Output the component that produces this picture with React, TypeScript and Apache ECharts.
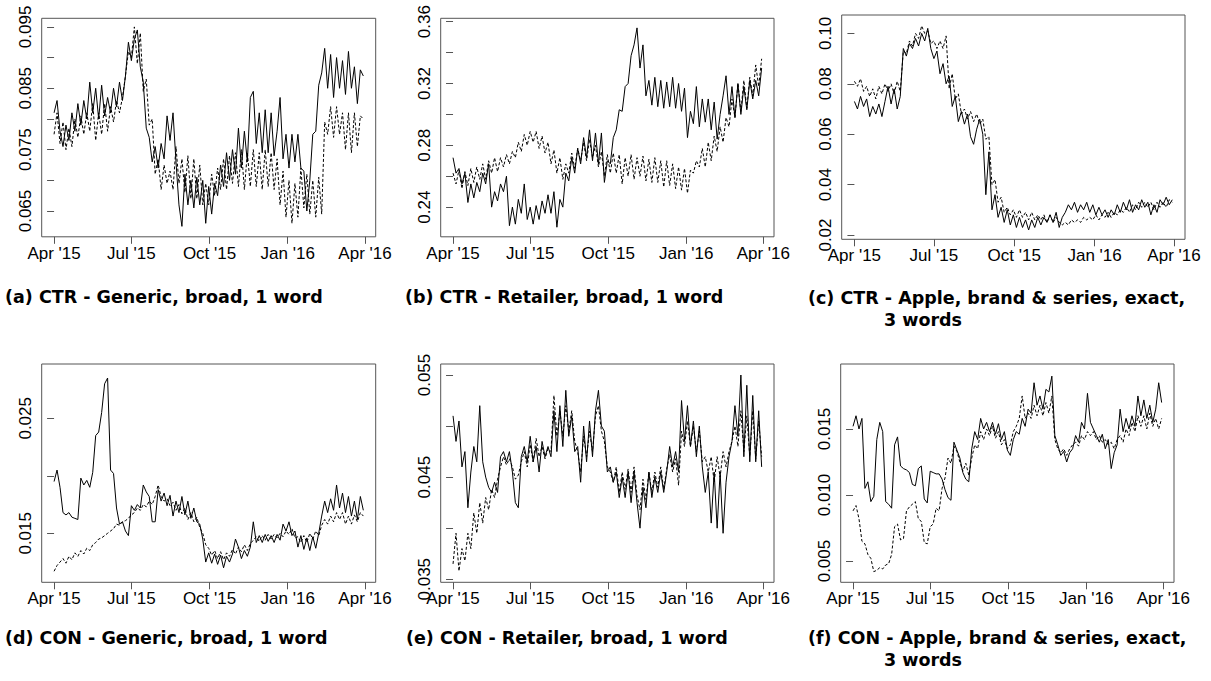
import React, { useEffect, useRef } from "react";
import * as echarts from "echarts";

// one reading every half week; day 0 = 1 Apr 2015
const STEP_DAYS = 3.5;
const xTickDays = [0, 91, 183, 275, 366];
const xTickLabels = ["Apr '15", "Jul '15", "Oct '15", "Jan '16", "Apr '16"];

// (a) CTR - Generic, broad, 1 word
const ctrGenericSolid = [
  0.081, 0.083, 0.078, 0.0755, 0.079, 0.0765, 0.081, 0.078, 0.0825, 0.079,
  0.083, 0.08, 0.086, 0.081, 0.085, 0.08, 0.0855, 0.0805, 0.0835, 0.081,
  0.085, 0.082, 0.086, 0.083, 0.087, 0.0925, 0.0895, 0.093, 0.0945, 0.0885,
  0.086, 0.0785, 0.077, 0.073, 0.0755, 0.072, 0.076, 0.0735, 0.0805, 0.0765,
  0.081, 0.073, 0.066, 0.0625, 0.071, 0.066, 0.07, 0.0655, 0.0705, 0.066,
  0.07, 0.063, 0.069, 0.0645, 0.0695, 0.0675, 0.0725, 0.069, 0.0745, 0.07,
  0.075, 0.071, 0.0785, 0.072, 0.078, 0.073, 0.0835, 0.0845, 0.076, 0.081,
  0.0745, 0.0815, 0.0745, 0.081, 0.074, 0.078, 0.0835, 0.0735, 0.0775, 0.072,
  0.0775, 0.073, 0.0775, 0.072, 0.0715, 0.065, 0.07, 0.0775, 0.078, 0.0855,
  0.0875, 0.0915, 0.085, 0.0905, 0.0835, 0.09, 0.085, 0.0895, 0.084, 0.091,
  0.085, 0.0885, 0.0825, 0.088, 0.087,
];
const ctrGenericDashed = [
  0.0775, 0.081, 0.076, 0.0795, 0.075, 0.0785, 0.0755, 0.08, 0.077, 0.0805,
  0.0775, 0.081, 0.078, 0.0825, 0.0765, 0.081, 0.0775, 0.0825, 0.078, 0.082,
  0.0795, 0.083, 0.081, 0.0835, 0.087, 0.091, 0.09, 0.095, 0.089, 0.094,
  0.0845, 0.0865, 0.079, 0.08, 0.071, 0.0735, 0.0685, 0.0725, 0.0695, 0.0715,
  0.0685, 0.0755, 0.0695, 0.0735, 0.068, 0.074, 0.067, 0.0735, 0.067, 0.0725,
  0.066, 0.0695, 0.066, 0.071, 0.0675, 0.072, 0.0685, 0.0735, 0.0685, 0.074,
  0.0695, 0.0745, 0.069, 0.075, 0.0685, 0.0745, 0.069, 0.075, 0.069, 0.0745,
  0.0685, 0.075, 0.069, 0.0745, 0.0685, 0.0735, 0.066, 0.0715, 0.064, 0.07,
  0.063, 0.0695, 0.064, 0.072, 0.0655, 0.071, 0.0645, 0.07, 0.064, 0.0705,
  0.0645, 0.0795, 0.0775, 0.082, 0.077, 0.082, 0.0775, 0.081, 0.075, 0.081,
  0.0745, 0.081, 0.0755, 0.0805, 0.08,
];

// (b) CTR - Retailer, broad, 1 word
const ctrRetailerSolid = [
  0.272, 0.262, 0.265, 0.255, 0.262, 0.243, 0.255, 0.246, 0.256, 0.25,
  0.262, 0.255, 0.268, 0.24, 0.25, 0.244, 0.255, 0.25, 0.26, 0.228,
  0.24, 0.229, 0.245, 0.236, 0.255, 0.232, 0.24, 0.229, 0.241, 0.232,
  0.244, 0.236, 0.248, 0.236, 0.25, 0.227, 0.245, 0.24, 0.262, 0.257,
  0.272, 0.262, 0.278, 0.268, 0.285, 0.272, 0.29, 0.27, 0.288, 0.268,
  0.288, 0.256, 0.27, 0.268, 0.285, 0.29, 0.303, 0.302, 0.318, 0.32,
  0.338, 0.345, 0.356, 0.33, 0.345, 0.312, 0.322, 0.306, 0.324, 0.305,
  0.322, 0.304, 0.321, 0.305, 0.324, 0.304, 0.32, 0.302, 0.317, 0.285,
  0.302, 0.294, 0.318, 0.292, 0.31, 0.295, 0.31, 0.29, 0.308, 0.284,
  0.3, 0.312, 0.325, 0.3, 0.318, 0.298, 0.32, 0.3, 0.318, 0.303,
  0.322, 0.31, 0.322, 0.312, 0.33,
];
const ctrRetailerDashed = [
  0.262, 0.255, 0.264, 0.252, 0.263, 0.254, 0.265, 0.256, 0.266, 0.258,
  0.268, 0.258, 0.27, 0.262, 0.272, 0.263, 0.272, 0.266, 0.274, 0.268,
  0.276, 0.272, 0.282, 0.276, 0.287, 0.28, 0.289, 0.282, 0.289, 0.278,
  0.286, 0.275, 0.282, 0.268, 0.277, 0.262, 0.272, 0.258, 0.268, 0.262,
  0.275, 0.265, 0.278, 0.27, 0.282, 0.27, 0.284, 0.272, 0.28, 0.266,
  0.276, 0.26, 0.274, 0.262, 0.275, 0.262, 0.274, 0.255, 0.272, 0.26,
  0.274, 0.258, 0.272, 0.26, 0.273, 0.257, 0.271, 0.256, 0.272, 0.256,
  0.27, 0.253, 0.27, 0.254, 0.268, 0.252, 0.266, 0.251, 0.265, 0.249,
  0.264, 0.262, 0.27, 0.266, 0.278, 0.266, 0.282, 0.27, 0.286, 0.276,
  0.292, 0.282, 0.298, 0.292, 0.31, 0.298, 0.32, 0.302, 0.322, 0.304,
  0.324, 0.312, 0.332, 0.318, 0.336,
];

// (c) CTR - Apple, brand & series, exact, 3 words
const ctrAppleSolid = [
  0.073, 0.07, 0.075, 0.071, 0.074, 0.067, 0.071, 0.068, 0.072, 0.067,
  0.073, 0.079, 0.072, 0.078, 0.07, 0.075, 0.094, 0.091, 0.096, 0.094,
  0.098, 0.095, 0.1, 0.097, 0.102, 0.094, 0.09, 0.093, 0.084, 0.088,
  0.08, 0.083, 0.071, 0.075, 0.065, 0.069, 0.064, 0.068, 0.059, 0.056,
  0.062, 0.066, 0.06, 0.036, 0.053, 0.03, 0.036, 0.027, 0.031, 0.025,
  0.03, 0.024, 0.028, 0.023, 0.027, 0.023, 0.026, 0.022, 0.026, 0.023,
  0.027, 0.024, 0.027, 0.025, 0.028, 0.025, 0.029, 0.023, 0.027, 0.029,
  0.032, 0.03, 0.033, 0.029, 0.032, 0.03, 0.033, 0.029, 0.032, 0.028,
  0.031, 0.028, 0.03, 0.027, 0.03, 0.028, 0.032, 0.029, 0.033, 0.03,
  0.034, 0.029, 0.032, 0.03, 0.034, 0.031, 0.033, 0.028, 0.032, 0.029,
  0.034, 0.032, 0.035, 0.032, 0.034,
];
const ctrAppleDashed = [
  0.081, 0.079, 0.082, 0.077, 0.079, 0.075, 0.078, 0.074, 0.079, 0.076,
  0.08, 0.077, 0.08, 0.076, 0.081, 0.077, 0.093, 0.092, 0.097, 0.095,
  0.1, 0.098, 0.103, 0.1, 0.101, 0.096, 0.097, 0.094, 0.097, 0.094,
  0.099, 0.078, 0.084, 0.074, 0.076, 0.068, 0.07, 0.066, 0.069, 0.065,
  0.068, 0.064, 0.066, 0.058, 0.059, 0.04, 0.042, 0.033, 0.035, 0.029,
  0.031, 0.028, 0.03, 0.027, 0.03, 0.027, 0.029, 0.026, 0.029, 0.026,
  0.028, 0.026, 0.028, 0.025, 0.028, 0.025, 0.027, 0.025, 0.024, 0.025,
  0.024, 0.026, 0.025, 0.026, 0.025, 0.027, 0.026, 0.027, 0.026, 0.028,
  0.026, 0.028, 0.027, 0.029, 0.027, 0.029, 0.028, 0.03, 0.029, 0.031,
  0.029, 0.032, 0.03, 0.033, 0.031, 0.033, 0.031, 0.033, 0.03, 0.033,
  0.031, 0.033, 0.031, 0.034, 0.033,
];

// (d) CON - Generic, broad, 1 word
const conGenericSolid = [
  0.0195, 0.0205, 0.019, 0.0168, 0.0166, 0.0168, 0.0164, 0.0163, 0.0162, 0.0198,
  0.0192, 0.0196, 0.019, 0.0203, 0.0235, 0.0238, 0.0255, 0.028, 0.0285, 0.0205,
  0.0202, 0.0172, 0.0158, 0.016, 0.0152, 0.0148, 0.0174, 0.017, 0.0175, 0.0172,
  0.0192, 0.0186, 0.0182, 0.016, 0.016, 0.0188, 0.0178, 0.0185, 0.0174, 0.0183,
  0.0165, 0.0178, 0.0168, 0.0182, 0.0166, 0.0178, 0.0163, 0.0172, 0.016, 0.0158,
  0.0145, 0.0125, 0.0133, 0.0124, 0.0132, 0.0123, 0.0131, 0.012, 0.013, 0.0125,
  0.0132, 0.0145, 0.0138, 0.0128, 0.0135, 0.013, 0.0138, 0.016, 0.0142, 0.0148,
  0.0142, 0.0149, 0.0143, 0.0148, 0.0142, 0.0149, 0.0144, 0.0158, 0.0152, 0.016,
  0.0148, 0.0152, 0.0138, 0.0148, 0.0136, 0.0146, 0.0135, 0.0147, 0.0137, 0.015,
  0.0165, 0.0178, 0.0168, 0.018, 0.017, 0.0192, 0.0172, 0.0185, 0.0168, 0.0182,
  0.0165, 0.0178, 0.0162, 0.0182, 0.017,
];
const conGenericDashed = [
  0.0117, 0.0122, 0.0125, 0.0128, 0.0124, 0.013, 0.0127, 0.0133, 0.013, 0.0135,
  0.0132, 0.0137, 0.0135, 0.014, 0.0142, 0.0145, 0.0146, 0.0148, 0.015, 0.0152,
  0.0154, 0.0158, 0.0157, 0.016, 0.0161, 0.0163, 0.0166, 0.0168, 0.0172, 0.017,
  0.0175, 0.0173, 0.0178, 0.0175, 0.0182, 0.0192, 0.0182, 0.0178, 0.018, 0.0174,
  0.0177, 0.017, 0.0175, 0.0167, 0.0172, 0.0162, 0.0168, 0.016, 0.0164, 0.0155,
  0.015, 0.014, 0.0137, 0.0131, 0.0135, 0.0128, 0.0134, 0.0127, 0.0133, 0.013,
  0.0136, 0.0132, 0.0138, 0.0134, 0.014, 0.0135, 0.0141, 0.0144, 0.0147, 0.0143,
  0.0148, 0.0144, 0.0149, 0.0145, 0.0149, 0.0146, 0.015, 0.0147, 0.0152, 0.0149,
  0.0154, 0.0146, 0.0147, 0.0142, 0.0148, 0.0142, 0.015, 0.0145, 0.0152, 0.0148,
  0.0157, 0.0162, 0.0158, 0.0165, 0.016, 0.0168, 0.0162, 0.0168, 0.0158, 0.0165,
  0.0158, 0.0166, 0.016, 0.0168, 0.0165,
];

// (e) CON - Retailer, broad, 1 word
const conRetailerSolid = [
  0.051, 0.0485, 0.0505, 0.046, 0.0475, 0.042, 0.0455, 0.048, 0.0465, 0.052,
  0.0465, 0.045, 0.044, 0.0435, 0.0445, 0.0435, 0.047, 0.0475, 0.0465, 0.0475,
  0.0455, 0.0425, 0.042, 0.047, 0.048, 0.0465, 0.049, 0.0465, 0.048, 0.0455,
  0.0485, 0.047, 0.048, 0.047, 0.0515, 0.0475, 0.052, 0.048, 0.0535, 0.049,
  0.051, 0.0475, 0.048, 0.0445, 0.05, 0.0465, 0.0505, 0.047, 0.0515, 0.0535,
  0.05, 0.0495, 0.0455, 0.046, 0.0445, 0.0455, 0.043, 0.045, 0.043, 0.0455,
  0.0425, 0.0455, 0.0425, 0.04, 0.044, 0.042, 0.0455, 0.043, 0.045, 0.0435,
  0.0455, 0.0435, 0.0455, 0.048, 0.046, 0.0475, 0.0455, 0.0525, 0.0485, 0.052,
  0.048, 0.0505, 0.047, 0.05, 0.046, 0.0435, 0.0455, 0.0405, 0.0455, 0.04,
  0.0455, 0.0395, 0.0445, 0.047, 0.0485, 0.052, 0.049, 0.055, 0.047, 0.054,
  0.0465, 0.053, 0.0465, 0.0515, 0.046,
];
const conRetailerDashed = [
  0.0365, 0.0395, 0.0358, 0.038, 0.0368, 0.0395, 0.038, 0.0415, 0.0395, 0.0425,
  0.0405, 0.043, 0.0418, 0.0438, 0.043, 0.0448, 0.046, 0.047, 0.0462, 0.0468,
  0.046, 0.0448, 0.0452, 0.0465, 0.0475, 0.046, 0.0482, 0.0465, 0.0488, 0.047,
  0.048, 0.0468, 0.0478, 0.0475, 0.053, 0.049, 0.0515, 0.049, 0.052, 0.0495,
  0.0515, 0.0485, 0.0475, 0.0455, 0.049, 0.047, 0.0495, 0.0475, 0.051, 0.052,
  0.0495, 0.0485, 0.046, 0.0455, 0.0445, 0.046, 0.0435, 0.0455, 0.0438, 0.0458,
  0.0435, 0.046, 0.0432, 0.0418, 0.0448, 0.0428, 0.0455, 0.0435, 0.0455, 0.044,
  0.046, 0.0438, 0.0458, 0.0472, 0.0455, 0.0468, 0.0442, 0.0495, 0.048, 0.0505,
  0.048, 0.05, 0.0475, 0.0495, 0.0465, 0.047, 0.0455, 0.047, 0.0445, 0.047,
  0.045, 0.0475, 0.046, 0.0475, 0.0485, 0.05, 0.048, 0.0515, 0.0475, 0.051,
  0.047, 0.0515, 0.0468, 0.0505, 0.047,
];

// (f) CON - Apple, brand & series, exact, 3 words
const conAppleSolid = [
  0.0152, 0.016, 0.015, 0.0158, 0.0105, 0.011, 0.0095, 0.0099, 0.0142, 0.0155,
  0.0148, 0.0095, 0.0093, 0.009, 0.0138, 0.0144, 0.0122, 0.012, 0.0119, 0.0117,
  0.0108, 0.0107, 0.012, 0.0122, 0.0097, 0.0094, 0.0118, 0.0117, 0.0116, 0.0116,
  0.0112, 0.0104, 0.0098, 0.0096, 0.014, 0.0134, 0.0128, 0.0117, 0.0112, 0.011,
  0.0135, 0.0148, 0.0142, 0.0158, 0.015, 0.0155, 0.0148, 0.0155, 0.0146, 0.0154,
  0.0142, 0.0148, 0.0134, 0.013, 0.0142, 0.0148, 0.0146, 0.0158, 0.0152, 0.0165,
  0.0162, 0.0185, 0.0168, 0.0175, 0.0165, 0.018, 0.0178, 0.019, 0.0145, 0.0138,
  0.013, 0.0133, 0.0125, 0.0132, 0.0135, 0.0145, 0.014, 0.0155, 0.015, 0.0177,
  0.0155, 0.015, 0.0145, 0.014, 0.0146, 0.0135, 0.0142, 0.012, 0.0132, 0.0138,
  0.0165, 0.0148, 0.0158, 0.015, 0.016, 0.0152, 0.0175, 0.016, 0.0172, 0.0158,
  0.0168, 0.0155, 0.0165, 0.0185, 0.017,
];
const conAppleDashed = [
  0.0088, 0.0092, 0.0082, 0.0065, 0.0063, 0.0055, 0.0052, 0.0042, 0.0043, 0.0045,
  0.0044, 0.0047, 0.0048, 0.0055, 0.0076, 0.0078, 0.0066, 0.0067, 0.0088, 0.0091,
  0.0093, 0.0095, 0.0082, 0.008, 0.0064, 0.0063, 0.0076, 0.0078, 0.009, 0.0088,
  0.0105, 0.0113, 0.0128, 0.0124, 0.0137, 0.0133, 0.0125, 0.0118, 0.0124, 0.0115,
  0.0128, 0.0138, 0.0135, 0.0148, 0.0142, 0.015, 0.0145, 0.0152, 0.0143, 0.0148,
  0.0138, 0.0142, 0.0135, 0.0138, 0.0148, 0.0152, 0.0158, 0.0175, 0.0158, 0.0162,
  0.0158, 0.0168, 0.016, 0.0168, 0.016, 0.017, 0.0162, 0.0175, 0.0142, 0.0135,
  0.0132, 0.0135, 0.013, 0.0135, 0.0138, 0.014, 0.0137, 0.0145, 0.0142, 0.0148,
  0.0145, 0.0148, 0.0142, 0.0145, 0.014, 0.0142, 0.0138, 0.014, 0.0135, 0.0142,
  0.0145, 0.014, 0.015, 0.0145, 0.0155, 0.0148, 0.016, 0.0152, 0.016, 0.015,
  0.0162, 0.0152, 0.0158, 0.015, 0.0158,
];

// y-axis ranges, tick marks and labelled ticks per panel
const yMins = [0.0608, 0.2208, 0.0183, 0.01074, 0.0347, 0.00339];
const yMaxs = [0.0964, 0.3622, 0.1073, 0.02972, 0.05608, 0.01992];
const yTicks = [
  [0.065, 0.07, 0.075, 0.08, 0.085, 0.09, 0.095],
  [0.24, 0.26, 0.28, 0.3, 0.32, 0.34, 0.36],
  [0.02, 0.04, 0.06, 0.08, 0.1],
  [0.015, 0.02, 0.025],
  [0.035, 0.04, 0.045, 0.05, 0.055],
  [0.005, 0.01, 0.015],
];
const yLabels = [
  [0.065, 0.075, 0.085, 0.095],
  [0.24, 0.28, 0.32, 0.36],
  [0.02, 0.04, 0.06, 0.08, 0.1],
  [0.015, 0.025],
  [0.035, 0.045, 0.055],
  [0.005, 0.01, 0.015],
];
const yDecimals = [3, 2, 2, 3, 3, 3];

const captions = [
  ["(a) CTR - Generic, broad, 1 word"],
  ["(b) CTR - Retailer, broad, 1 word"],
  ["(c) CTR - Apple, brand & series, exact,", "3 words"],
  ["(d) CON - Generic, broad, 1 word"],
  ["(e) CON - Retailer, broad, 1 word"],
  ["(f) CON - Apple, brand & series, exact,", "3 words"],
];

const panelSeries = [
  [ctrGenericSolid, ctrGenericDashed],
  [ctrRetailerSolid, ctrRetailerDashed],
  [ctrAppleSolid, ctrAppleDashed],
  [conGenericSolid, conGenericDashed],
  [conRetailerSolid, conRetailerDashed],
  [conAppleSolid, conAppleDashed],
];

// layout (pixels)
const gridBoxes = [
  { left: 41.7, top: 18.3, width: 334, height: 218.5 },
  { left: 440.7, top: 18.3, width: 333.3, height: 218.5 },
  { left: 841.7, top: 15, width: 343.3, height: 224.3 },
  { left: 41.7, top: 364, width: 334, height: 218.3 },
  { left: 440.7, top: 364, width: 333.3, height: 218.3 },
  { left: 840.7, top: 364, width: 333.3, height: 218.3 },
];
const captionPos = [
  { x: 5, y: 297 },
  { x: 405, y: 297 },
  { x: 808, y: 298 },
  { x: 5, y: 638 },
  { x: 406, y: 638 },
  { x: 808, y: 638 },
];

const X_MIN = -14.56;
const X_MAX = 378.56;
const AXIS_COLOR = "#555";
const LABEL_FONT = "Liberation Sans";

export default function App() {
  const ref = useRef<HTMLDivElement>(null);
  useEffect(() => {
    if (!ref.current) return;
    const chart = echarts.init(ref.current, undefined, { renderer: "svg" });
    const grid = gridBoxes.map((g) => ({
      ...g,
      show: true,
      borderColor: AXIS_COLOR,
      borderWidth: 1,
      backgroundColor: "transparent",
      containLabel: false,
    }));
    const xAxis = gridBoxes.map((_, k) => ({
      type: "value",
      gridIndex: k,
      min: X_MIN,
      max: X_MAX,
      axisLine: { show: false },
      splitLine: { show: false },
      axisTick: {
        show: true,
        length: 7,
        customValues: xTickDays,
        lineStyle: { color: AXIS_COLOR, width: 1 },
      },
      axisLabel: {
        customValues: xTickDays,
        margin: 8,
        fontSize: 17,
        fontFamily: LABEL_FONT,
        color: "#000",
        formatter: (v: number) => {
          const j = xTickDays.findIndex((d) => Math.abs(d - v) < 0.01);
          return j >= 0 ? xTickLabels[j] : "";
        },
      },
    }));
    const yAxis = gridBoxes.map((_, k) => ({
      type: "value",
      gridIndex: k,
      min: yMins[k],
      max: yMaxs[k],
      axisLine: { show: false },
      splitLine: { show: false },
      axisTick: {
        show: true,
        length: 7,
        customValues: yTicks[k],
        lineStyle: { color: AXIS_COLOR, width: 1 },
      },
      axisLabel: {
        customValues: yLabels[k],
        rotate: 90,
        margin: 8,
        fontSize: 17,
        fontFamily: LABEL_FONT,
        color: "#000",
        formatter: (v: number) => v.toFixed(yDecimals[k]),
      },
    }));
    const series: any[] = [];
    panelSeries.forEach(([solid, dashed], k) => {
      series.push({
        type: "line",
        xAxisIndex: k,
        yAxisIndex: k,
        data: dashed.map((v, i) => [i * STEP_DAYS, v]),
        showSymbol: false,
        symbol: "none",
        lineStyle: { color: "#000", width: 1, type: [3, 2] },
        silent: true,
      });
      series.push({
        type: "line",
        xAxisIndex: k,
        yAxisIndex: k,
        data: solid.map((v, i) => [i * STEP_DAYS, v]),
        showSymbol: false,
        symbol: "none",
        lineStyle: { color: "#000", width: 1 },
        silent: true,
      });
    });
    const graphic: any[] = [];
    captions.forEach((lines, k) => {
      lines.forEach((t, li) => {
        graphic.push({
          type: "text",
          x: li === 0 ? captionPos[k].x : captionPos[k].x + 76,
          y: captionPos[k].y + li * 22,
          style: {
            text: t,
            font: 'bold 17.5px "DejaVu Sans"',
            fill: "#000",
            textVerticalAlign: "middle",
            verticalAlign: "middle",
          },
        });
      });
    });
    chart.setOption({
      animation: false,
      grid,
      xAxis,
      yAxis,
      series,
      graphic,
    });
    return () => chart.dispose();
  }, []);
  return (
    <div
      ref={ref}
      style={{ position: "absolute", left: 0, top: 0, width: 1211, height: 681 }}
    />
  );
}
